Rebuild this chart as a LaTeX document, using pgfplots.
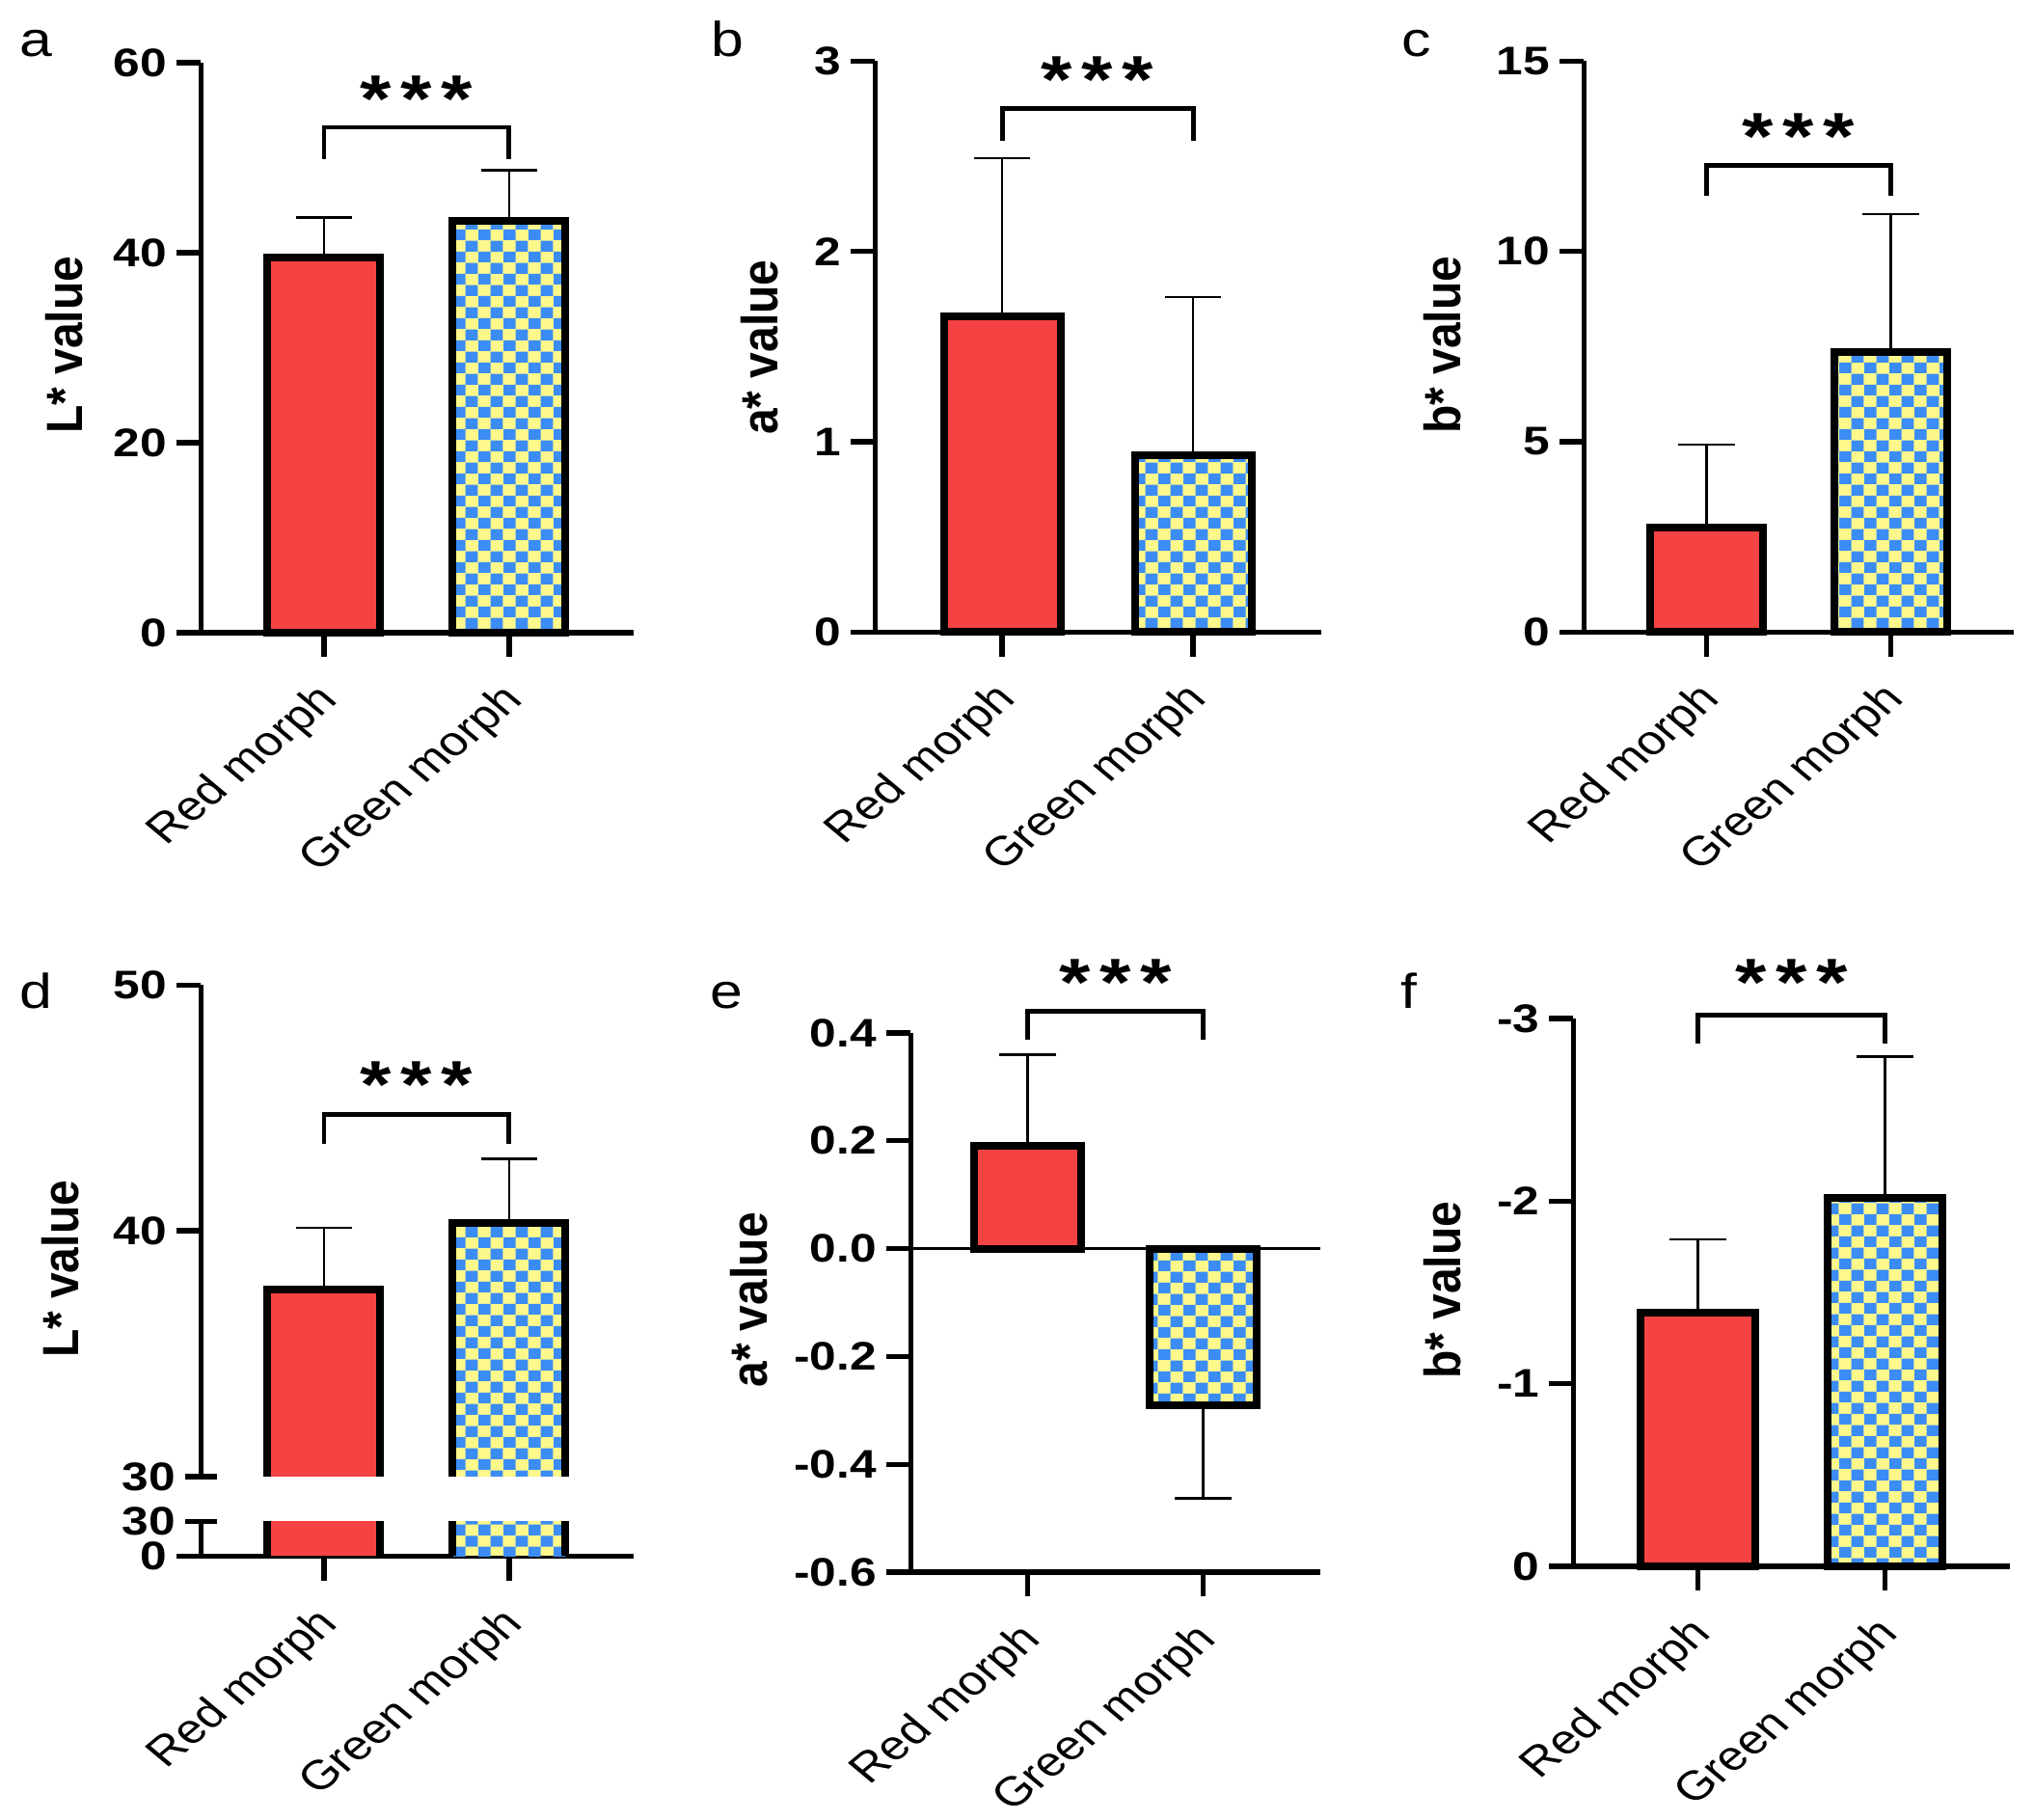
\documentclass[border=0pt]{standalone}
\usepackage{pgfplots}
\pgfplotsset{compat=1.18}
\usepackage{fontspec}
\setmainfont{Liberation Sans}
\usetikzlibrary{patterns}
\definecolor{cred}{RGB}{245,66,66}
\definecolor{cblue}{RGB}{60,140,245}
\definecolor{cyel}{RGB}{252,248,140}
\pgfdeclarepatternformonly{checkerw}{\pgfpointorigin}{\pgfqpoint{9.8pt}{8.5pt}}{\pgfqpoint{9.8pt}{8.5pt}}{%
 \pgfpathrectangle{\pgfpointorigin}{\pgfqpoint{4.9pt}{4.25pt}}%
 \pgfpathrectangle{\pgfqpoint{4.9pt}{4.25pt}}{\pgfqpoint{4.9pt}{4.25pt}}%
 \pgfusepath{fill}}
\pgfplotsset{
 panel/.style={
   anchor=south west, scale only axis,
   axis x line*=bottom, axis y line*=left,
   axis line style={line width=2pt},
   tick style={line width=2pt, black},
   major tick length=9.5pt, tick align=outside,
   xmin=-0.665, xmax=1.67,
   xtick={0,1}, xticklabels={Red morph, Green morph},
   xticklabel style={font=\fontsize{16}{19}\selectfont, anchor=north east, inner sep=0pt, xshift=-4pt, yshift=-9pt, xscale=1.2, rotate=45},
   yticklabel style={font=\fontsize{15.5}{18}\selectfont\bfseries, inner sep=0pt, xshift=-3.5pt, xscale=1.2},
   clip=false,
 },
 redbar/.style={ybar, bar shift=0pt, bar width=0.61, fill=cred, draw=black, line width=3pt},
 grnbar/.style={ybar, bar shift=0pt, bar width=0.61, draw=black, line width=3pt, pattern=checkerw, pattern color=cblue, preaction={fill=cyel}},
 redline/.style={sharp plot, mark=none, fill=cred, draw=black, line width=3pt},
 grnline/.style={sharp plot, mark=none, draw=black, line width=3pt, pattern=checkerw, pattern color=cblue, preaction={fill=cyel}},
 errb/.style={draw=none, mark=none, forget plot, error bars/.cd, y dir=#1, y explicit, error bar style={draw=black, line width=1pt, solid}, error mark options={rotate=90, draw=black, line width=1pt, mark size=11pt, solid}},
}
\newcommand\sig[3]{%
 \draw[line width=1.8pt] (axis cs:0,#1) -- (axis cs:0,#2) -- (axis cs:1,#2) -- (axis cs:1,#1);
 \node[anchor=base, inner sep=0pt, yshift=-12.5pt, xscale=1.2, font=\fontsize{26}{26}\selectfont\bfseries] at (axis cs:0.5,#3) {*\hspace{3pt}*\hspace{3pt}*};
}
\newcommand\ylab[3]{\node[anchor=base, inner sep=0pt, xscale=1.1, rotate=90, font=\fontsize{18}{21}\selectfont\bfseries] at (#1,#2) {#3};}
\newcommand\plab[3]{\node[anchor=base west, inner sep=0pt, xscale=1.2, font=\fontsize{19}{22}\selectfont] at (#1,#2) {#3};}
\begin{document}
\begin{tikzpicture}
\useasboundingbox (0,0) rectangle (790.9pt,707.6pt);
% ---------- a
\begin{axis}[panel, at={(78.1pt,461.6pt)}, width=168.1pt, height=221.6pt,
  ymin=0, ymax=60, ytick={0,20,40,60}, yticklabels={0,20,40,60}]
\addplot[redbar] coordinates {(0,39.5)};
\addplot[grnbar] coordinates {(1,43.4)};
\addplot[errb=plus] coordinates {(0,39.5) +- (0,4.2) (1,43.4) +- (0,5.3)};
\sig{49.9}{53.2}{57.1}
\end{axis}
% ---------- b
\begin{axis}[panel, at={(340.3pt,461.9pt)}, width=173.4pt, height=221.9pt,
  ymin=0, ymax=3, ytick={0,1,2,3}, yticklabels={0,1,2,3}]
\addplot[redbar] coordinates {(0,1.66)};
\addplot[grnbar] coordinates {(1,0.93)};
\addplot[errb=plus] coordinates {(0,1.66) +- (0,0.83) (1,0.93) +- (0,0.83)};
\sig{2.58}{2.75}{2.95}
\end{axis}
% ---------- c
\begin{axis}[panel, at={(615.9pt,461.9pt)}, width=167.2pt, height=221.9pt,
  ymin=0, ymax=15, ytick={0,5,10,15}, yticklabels={0,5,10,15}]
\addplot[redbar] coordinates {(0,2.75)};
\addplot[grnbar] coordinates {(1,7.35)};
\addplot[errb=plus] coordinates {(0,2.75) +- (0,2.17) (1,7.35) +- (0,3.63)};
\sig{11.47}{12.27}{13.27}
\end{axis}
% ---------- d upper (broken axis)
\begin{axis}[panel, at={(78.1pt,133.5pt)}, width=168.1pt, height=191.1pt,
  axis x line=none, xtick=\empty, clip=true, clip mode=individual,
  ymin=30, ymax=50, ytick={40,50}, yticklabels={40,50},
  extra y ticks={30}, extra y tick labels={30},
  extra y tick style={tick align=center, major tick length=12.4pt}]
\addplot[redline] coordinates {(-0.305,0) (-0.305,37.6) (0.305,37.6) (0.305,0)};
\addplot[grnline] coordinates {(0.695,0) (0.695,40.3) (1.305,40.3) (1.305,0)};
\addplot[errb=plus] coordinates {(0,37.6) +- (0,2.52) (1,40.3) +- (0,2.64)};
\sig{43.55}{44.74}{46.3}
\end{axis}
% ---------- d lower
\begin{axis}[panel, at={(78.1pt,102.6pt)}, width=168.1pt, height=13.4pt,
  clip=true, clip mode=individual,
  ymin=0, ymax=30, ytick={0}, yticklabels={0},
  extra y ticks={30}, extra y tick labels={30},
  extra y tick style={tick align=center, major tick length=12.4pt}]
\addplot[redline] coordinates {(-0.305,0) (-0.305,37.6) (0.305,37.6) (0.305,0)};
\addplot[grnline] coordinates {(0.695,0) (0.695,40.3) (1.305,40.3) (1.305,0)};
\end{axis}
% ---------- e
\begin{axis}[panel, at={(354.1pt,96.3pt)}, width=159.4pt, height=209.7pt,
  ymin=-0.6, ymax=0.4, ytick={-0.6,-0.4,-0.2,0,0.2,0.4}, yticklabels={-0.6,-0.4,-0.2,0.0,0.2,0.4}]
\draw[line width=1.2pt] (axis cs:-0.665,0) -- (axis cs:1.67,0);
\addplot[redbar] coordinates {(0,0.19)};
\addplot[grnbar] coordinates {(1,-0.29)};
\addplot[errb=plus] coordinates {(0,0.19) +- (0,0.17)};
\addplot[errb=minus] coordinates {(1,-0.29) +- (0,0.173)};
\sig{0.387}{0.44}{0.51}
\end{axis}
% ---------- f
\begin{axis}[panel, at={(611.8pt,98.6pt)}, width=169.9pt, height=213pt, y dir=reverse,
  ymin=-3, ymax=0, ytick={-3,-2,-1,0}, yticklabels={-3,-2,-1,0}]
\addplot[redbar] coordinates {(0,-1.39)};
\addplot[grnbar] coordinates {(1,-2.02)};
\addplot[errb=minus] coordinates {(0,-1.39) +- (0,0.40) (1,-2.02) +- (0,0.77)};
\sig{-2.86}{-3.02}{-3.246}
\end{axis}
% ---------- labels
\ylab{31.9pt}{573.4pt}{L* value}
\ylab{302.6pt}{572.6pt}{a* value}
\ylab{568.1pt}{573.4pt}{b* value}
\ylab{30.75pt}{214.1pt}{L* value}
\ylab{298.5pt}{202.1pt}{a* value}
\ylab{568.1pt}{205.9pt}{b* value}
\plab{7.5pt}{685.5pt}{a}
\plab{276.4pt}{685.5pt}{b}
\plab{544.9pt}{685.5pt}{c}
\plab{7.5pt}{315.4pt}{d}
\plab{276pt}{315.4pt}{e}
\plab{544.5pt}{315.4pt}{f}
\end{tikzpicture}
\end{document}
